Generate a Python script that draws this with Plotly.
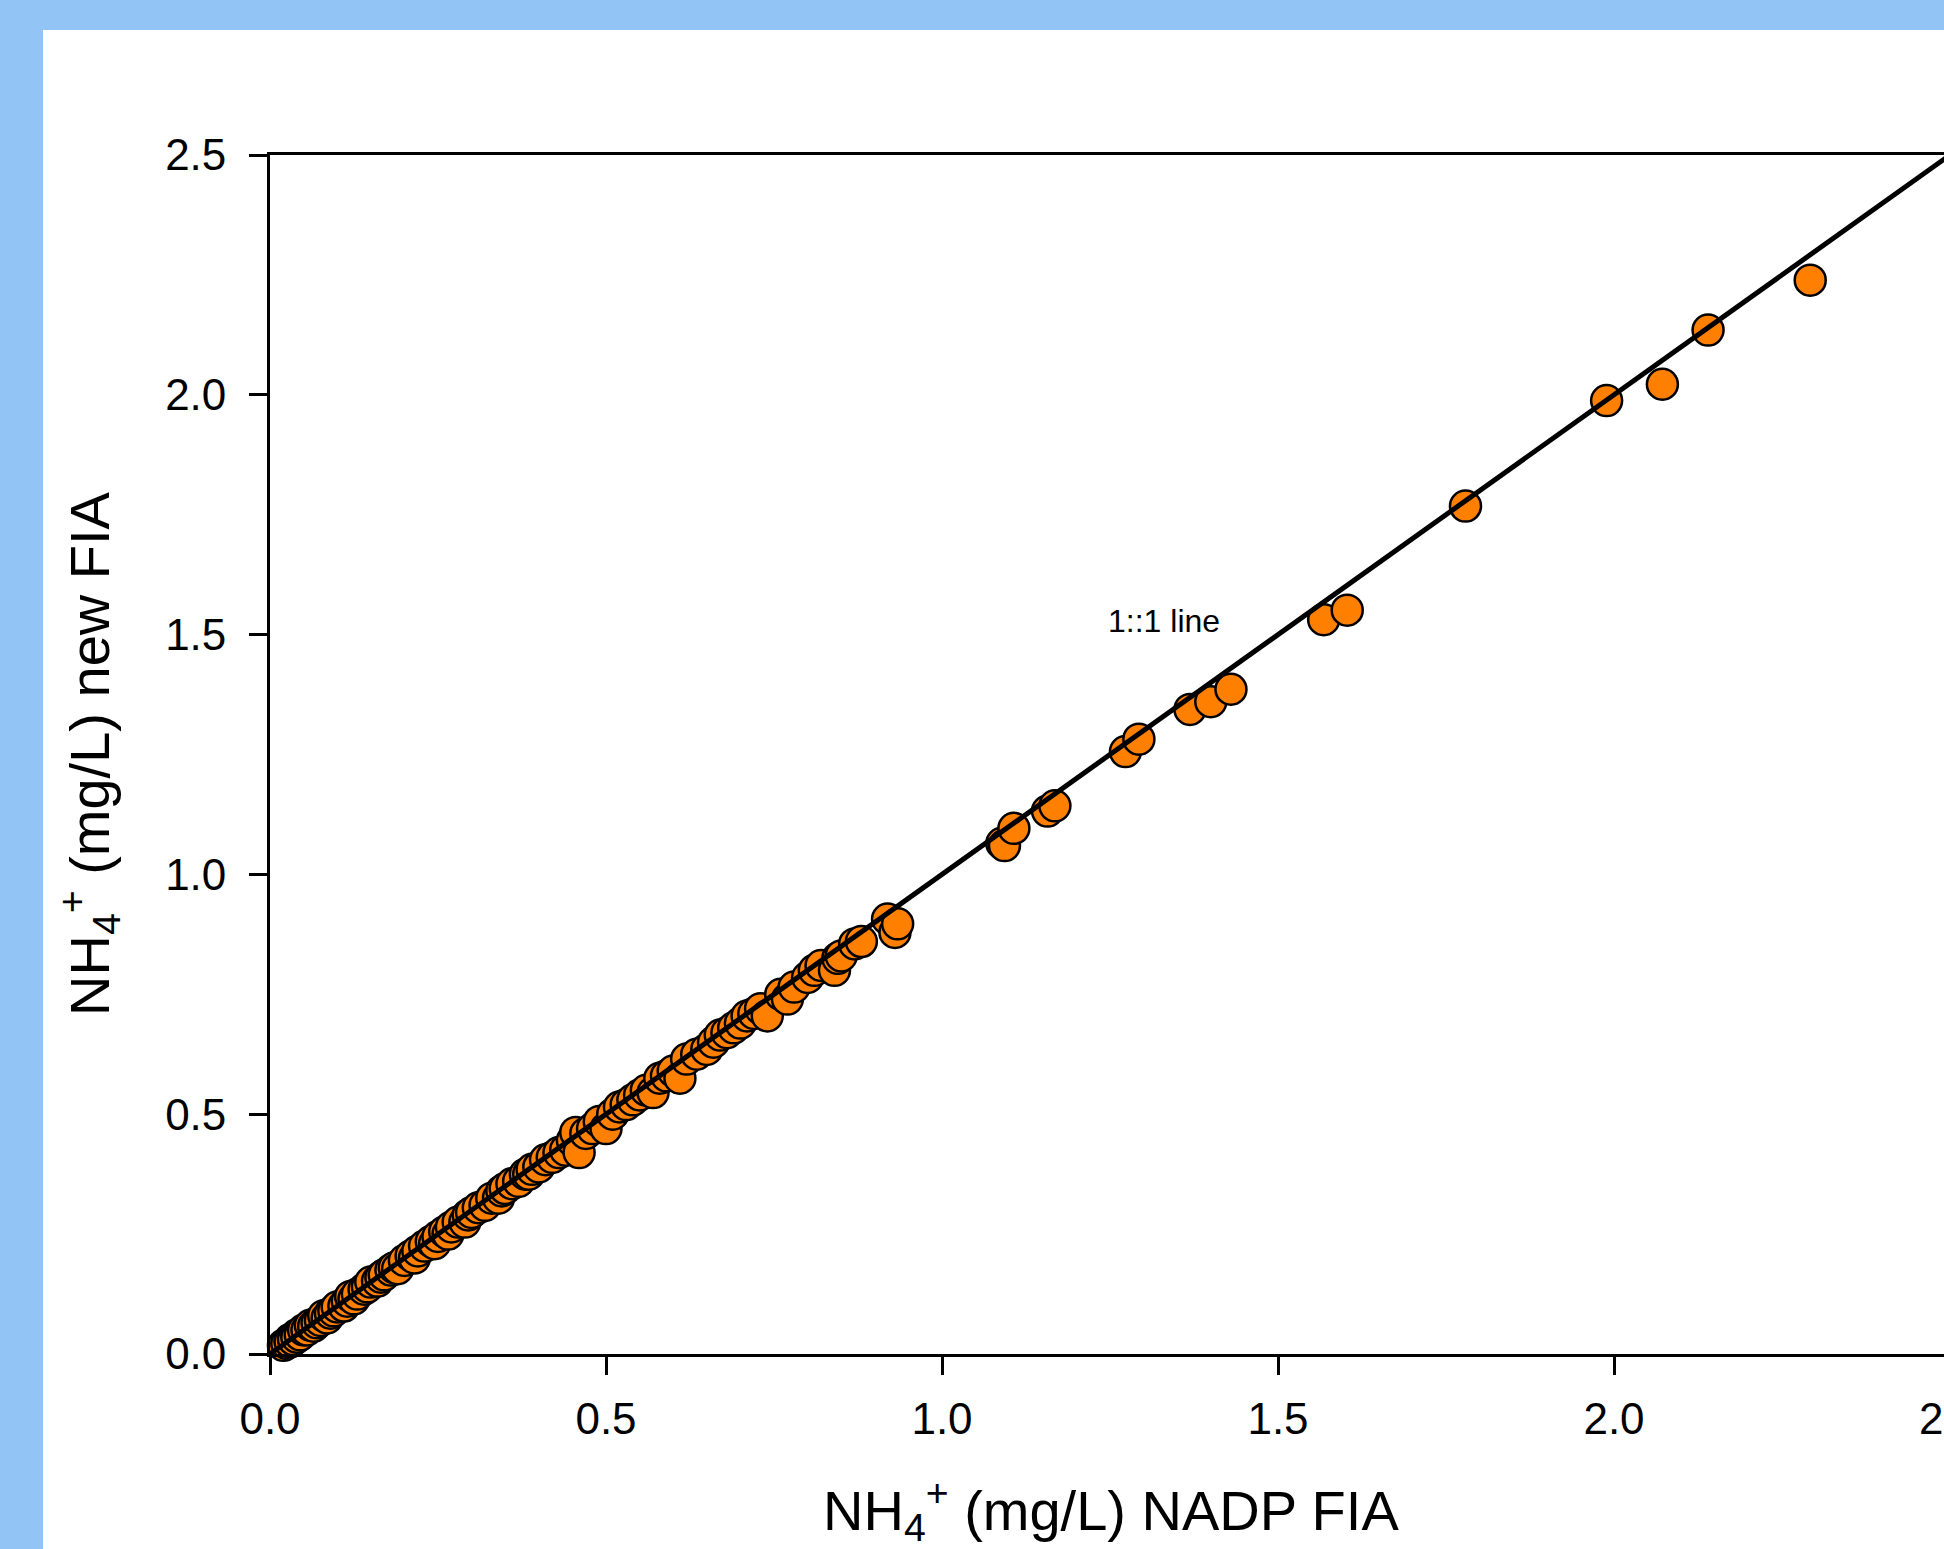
import plotly.graph_objects as go

# ---- data ----
nadp_fia = [
    0.020, 0.025, 0.030, 0.030, 0.035, 0.040, 0.040, 0.045, 0.050, 0.055,
    0.060, 0.065, 0.070, 0.075, 0.080, 0.085, 0.090, 0.095, 0.100, 0.110,
    0.115, 0.120, 0.125, 0.130, 0.140, 0.145, 0.150, 0.160, 0.165, 0.170,
    0.180, 0.185, 0.190, 0.200, 0.210, 0.215, 0.220, 0.230, 0.240, 0.245,
    0.250, 0.260, 0.265, 0.270, 0.280, 0.290, 0.295, 0.300, 0.310, 0.320,
    0.330, 0.340, 0.345, 0.350, 0.360, 0.370, 0.380, 0.385, 0.390, 0.400,
    0.410, 0.420, 0.430, 0.440, 0.450, 0.455, 0.460, 0.470, 0.480, 0.490,
    0.500, 0.510, 0.520, 0.530, 0.540, 0.550, 0.560, 0.570, 0.580, 0.590,
    0.600, 0.610, 0.620, 0.635, 0.650, 0.660, 0.670, 0.680, 0.690, 0.700,
    0.710, 0.720, 0.730, 0.740, 0.760, 0.770, 0.780, 0.800, 0.810, 0.820,
    0.840, 0.845, 0.850, 0.870, 0.880,
    0.919, 0.930, 0.934, 1.089, 1.093, 1.107, 1.157, 1.168, 1.273, 1.293,
    1.369, 1.400, 1.430, 1.568, 1.603, 1.779, 1.989, 2.072, 2.140, 2.292,
]
new_fia = [
    0.018, 0.022, 0.030, 0.025, 0.030, 0.040, 0.035, 0.040, 0.050, 0.050,
    0.060, 0.058, 0.065, 0.070, 0.080, 0.075, 0.085, 0.090, 0.098, 0.100,
    0.110, 0.120, 0.115, 0.125, 0.135, 0.140, 0.150, 0.152, 0.160, 0.165,
    0.175, 0.180, 0.178, 0.195, 0.205, 0.200, 0.215, 0.225, 0.235, 0.230,
    0.245, 0.255, 0.250, 0.265, 0.275, 0.275, 0.290, 0.295, 0.305, 0.310,
    0.325, 0.325, 0.340, 0.345, 0.355, 0.360, 0.375, 0.375, 0.385, 0.390,
    0.405, 0.410, 0.420, 0.425, 0.445, 0.462, 0.420, 0.460, 0.470, 0.485,
    0.470, 0.500, 0.515, 0.520, 0.530, 0.540, 0.550, 0.545, 0.575, 0.580,
    0.590, 0.575, 0.615, 0.625, 0.635, 0.650, 0.665, 0.670, 0.680, 0.690,
    0.705, 0.710, 0.720, 0.705, 0.750, 0.740, 0.765, 0.785, 0.800, 0.810,
    0.800, 0.825, 0.830, 0.855, 0.860,
    0.907, 0.879, 0.897, 1.065, 1.060, 1.096, 1.132, 1.143, 1.256, 1.282,
    1.344, 1.360, 1.386, 1.531, 1.551, 1.768, 1.988, 2.022, 2.135, 2.239,
]
one_to_one = [0.0, 2.5]
tick_vals = [0.0, 0.5, 1.0, 1.5, 2.0, 2.5]
tick_text = ["0.0", "0.5", "1.0", "1.5", "2.0", "2.5"]

# ---- geometry (pixels) ----
W, H = 1944, 1549
L, T = 270, 155
B = H - 1354
R = 0
plot_w = W - L - R
plot_h = H - T - B
px_per_unit_x = 672.0
x_max = plot_w / px_per_unit_x

def px_x(p):
    return (p - L) / plot_w

def px_y(p):
    return (H - B - p) / plot_h

FONT = "Liberation Sans, Arial, sans-serif"
BLUE = "rgb(146,197,245)"

fig = go.Figure()
fig.add_trace(go.Scatter(
    x=nadp_fia, y=new_fia, mode="markers",
    marker=dict(size=31, color="#FF8000", line=dict(color="black", width=2.5)),
    cliponaxis=False, showlegend=False,
))
fig.add_trace(go.Scatter(
    x=one_to_one, y=one_to_one, mode="lines",
    line=dict(color="black", width=5), showlegend=False,
))

axis_common = dict(
    showgrid=False, zeroline=False, showline=True, linecolor="black", linewidth=2.8,
    ticks="outside", ticklen=18, tickwidth=2.8, tickcolor="black",
    tickfont=dict(family=FONT, size=44, color="black"),
)
fig.update_xaxes(range=[0, x_max], tickvals=tick_vals[:-1], ticktext=tick_text[:-1],
                 mirror=True, ticklabelstandoff=6, **axis_common)
fig.update_yaxes(range=[0, 2.5], tickvals=tick_vals, ticktext=tick_text,
                 ticklabelstandoff=14, **axis_common)

shapes = [
    dict(type="rect", xref="paper", yref="paper", x0=px_x(0), x1=px_x(43),
         y0=px_y(H), y1=px_y(0), fillcolor=BLUE, line=dict(width=0), layer="below"),
    dict(type="rect", xref="paper", yref="paper", x0=px_x(0), x1=px_x(W),
         y0=px_y(30), y1=px_y(0), fillcolor=BLUE, line=dict(width=0), layer="below"),
]

annotations = [
    dict(text="1::1 line", x=1.33, y=1.529, xref="x", yref="y", showarrow=False,
         font=dict(family=FONT, size=32, color="black"), xanchor="center", yanchor="middle"),
    dict(text=tick_text[-1], x=px_x(L + 2.5 * px_per_unit_x), y=px_y(1418), xref="paper", yref="paper",
         showarrow=False, font=dict(family=FONT, size=44, color="black"),
         xanchor="center", yanchor="middle"),
    dict(text="NH<sub>4</sub><sup>+</sup> (mg/L) NADP FIA", x=px_x(1111), y=px_y(1510),
         xref="paper", yref="paper", showarrow=False,
         font=dict(family=FONT, size=56, color="black"), xanchor="center", yanchor="middle"),
    dict(text="NH<sub>4</sub><sup>+</sup> (mg/L) new FIA", x=px_x(89), y=px_y(754),
         xref="paper", yref="paper", showarrow=False, textangle=-90,
         font=dict(family=FONT, size=56, color="black"), xanchor="center", yanchor="middle"),
]

fig.update_layout(
    width=W, height=H,
    margin=dict(l=L, r=R, t=T, b=B, pad=0),
    paper_bgcolor="white", plot_bgcolor="white",
    shapes=shapes, annotations=annotations,
    font=dict(family=FONT, color="black"),
)

fig.write_html(
    "out.html",
    config={"displayModeBar": False},
    post_script="document.body.style.margin='0';document.body.style.overflow='hidden';",
)
